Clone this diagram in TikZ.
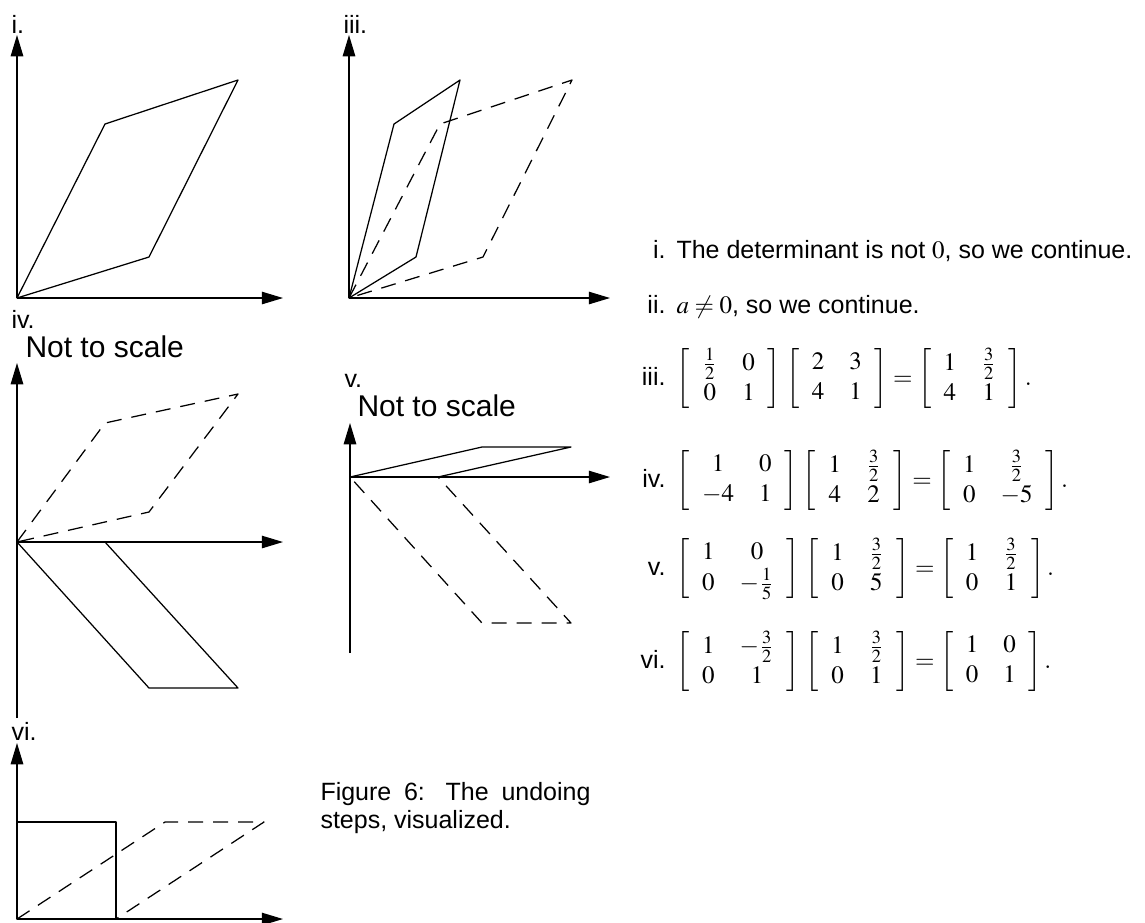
\documentclass[tikz,border=0pt]{standalone}
\usepackage{mathptmx}
\usepackage[no-math]{fontspec}
\setmainfont{Liberation Sans}
\usetikzlibrary{arrows.meta}
\newcommand{\mtx}[4]{\left[\begin{array}{cc}#1&#2\\#3&#4\end{array}\right]}
\begin{document}
\begin{tikzpicture}[x=0.4pt,y=-0.4pt,
  ax/.style={line width=0.5pt,-{Triangle[length=8.5pt,width=5pt]}},
  shp/.style={line width=0.5pt,line join=round},
  dsh/.style={shp,dash pattern=on 6pt off 4pt},
  plabel/.style={anchor=base west,inner sep=0pt},
  nts/.style={anchor=base west,inner sep=0pt,font=\large},
  lnum/.style={anchor=base east,inner sep=0pt},
  ltxt/.style={anchor=base west,inner sep=0pt}]
\useasboundingbox (0,0) rectangle (1145,922);
% ---------- panel i
\node[plabel] (li) at (11,33) {i.};
\coordinate (o1) at (17,298);
\coordinate (y1) at (17,35);
\coordinate (x1) at (283,298);
\draw[ax] (o1) -- (y1);
\draw[ax] (o1) -- (x1);
\draw[shp] (o1) -- (105,124) -- (238,80) -- (149,257) -- cycle;
% ---------- panel iii
\node[plabel] (liii) at (343,33) {iii.};
\coordinate (o3) at (349,298);
\coordinate (y3) at (349,35);
\coordinate (x3) at (610,298);
\draw[ax] (o3) -- (y3);
\draw[ax] (o3) -- (x3);
\draw[shp] (o3) -- (394,124) -- (460,80) -- (416,257) -- cycle;
\draw[dsh] (o3) -- (440,124) -- (572,80) -- (483,257) -- cycle;
% ---------- panel iv
\node[plabel] (liv) at (11,328) {iv.};
\node[nts] (ntsiv) at (25,357) {Not to scale};
\coordinate (o4) at (17,542);
\coordinate (y4) at (17,363);
\coordinate (b4) at (17,718);
\coordinate (x4) at (283,542);
\draw[ax] (b4) -- (y4);
\draw[ax] (o4) -- (x4);
\draw[dsh] (o4) -- (105,423) -- (238,394) -- (149,512) -- cycle;
\draw[shp] (o4) -- (105,542) -- (238,688) -- (149,688) -- cycle;
% ---------- panel v
\node[plabel] (lv) at (344,387) {v.};
\node[nts] (ntsv) at (357,416) {Not to scale};
\coordinate (o5) at (350,477);
\coordinate (y5) at (350,423);
\coordinate (b5) at (350,653);
\coordinate (x5) at (610,477);
\draw[ax] (b5) -- (y5);
\draw[ax] (o5) -- (x5);
\draw[shp] (o5) -- (438,477) -- (571,447) -- (482,447) -- cycle;
\draw[dsh] (o5) -- (438,477) -- (571,623) -- (482,623) -- cycle;
% ---------- panel vi
\node[plabel] (lvi) at (11,740) {vi.};
\coordinate (o6) at (17,919);
\coordinate (y6) at (17,743);
\coordinate (x6) at (283,919);
\draw[ax] (o6) -- (y6);
\draw[ax] (o6) -- (x6);
\draw[shp] (o6) -- (116,919) -- (116,822) -- (17,822) -- cycle;
\draw[dsh] (o6) -- (165,822) -- (264,822) -- (116,919) -- cycle;
% ---------- caption
\node[anchor=north west,inner sep=0pt] (cap) at (320,782)
  {\parbox{108pt}{\baselineskip=11pt Figure 6: The undoing steps, visualized.}};
% ---------- list
\node[lnum] (n1) at (666,258) {i.};
\node[ltxt] (t1) at (676,258) {The determinant is not $0$, so we continue.};
\node[lnum] (n2) at (666,313) {ii.};
\node[ltxt] (t2) at (676,313) {$a\neq 0$, so we continue.};
\node[lnum] (n3) at (666,385) {iii.};
\node[ltxt] (t3) at (676,385) {$\mtx{\frac{1}{2}}{0}{0}{1}\,\mtx{2}{3}{4}{1}=\mtx{1}{\frac{3}{2}}{4}{1}.$};
\node[lnum] (n4) at (666,487) {iv.};
\node[ltxt] (t4) at (676,487) {$\mtx{1}{0}{-4}{1}\,\mtx{1}{\frac{3}{2}}{4}{2}=\mtx{1}{\frac{3}{2}}{0}{-5}.$};
\node[lnum] (n5) at (666,575) {v.};
\node[ltxt] (t5) at (676,575) {$\mtx{1}{0}{0}{-\frac{1}{5}}\,\mtx{1}{\frac{3}{2}}{0}{5}=\mtx{1}{\frac{3}{2}}{0}{1}.$};
\node[lnum] (n6) at (666,668) {vi.};
\node[ltxt] (t6) at (676,668) {$\mtx{1}{-\frac{3}{2}}{0}{1}\,\mtx{1}{\frac{3}{2}}{0}{1}=\mtx{1}{0}{0}{1}.$};
\end{tikzpicture}
\end{document}
